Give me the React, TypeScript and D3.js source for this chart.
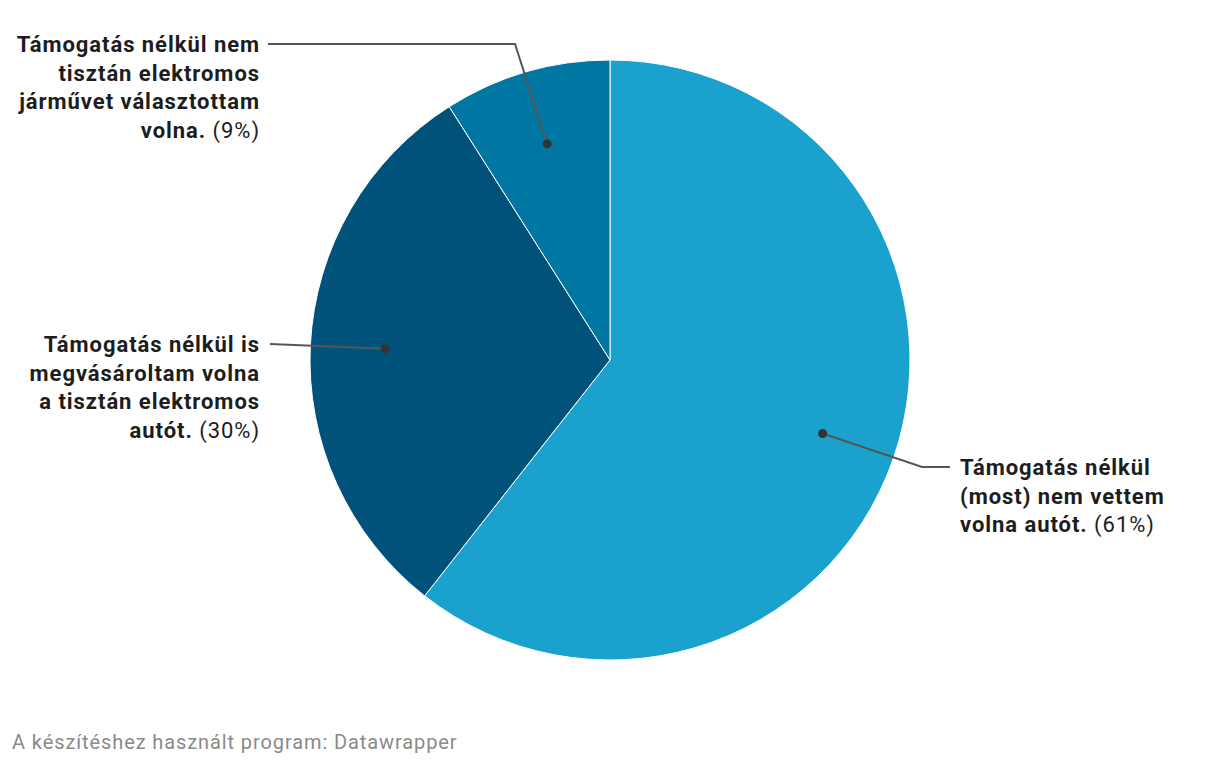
import React from "react";
import * as d3 from "d3";

const categories = [
  "Támogatás nélkül (most) nem vettem volna autót.",
  "Támogatás nélkül is megvásároltam volna a tisztán elektromos autót.",
  "Támogatás nélkül nem tisztán elektromos járművet választottam volna.",
];
const values = [60.6, 30.4, 9.0];
const percentLabels = ["(61%)", "(30%)", "(9%)"];
const colors = ["#1aa1cd", "#00527a", "#0077a3"];
const labelLines = [
  ["Támogatás nélkül", "(most) nem vettem", "volna autót."],
  ["Támogatás nélkül is", "megvásároltam volna", "a tisztán elektromos", "autót."],
  ["Támogatás nélkül nem", "tisztán elektromos", "járművet választottam", "volna."],
];

const W = 1220;
const H = 766;
const cx = 610;
const cy = 360;
const R = 300;

const labelLayout = [
  { x: 960, y: 475, anchor: "start", elbow: [922, 467], end: [950, 467] },
  { x: 260, y: 352, anchor: "end", elbow: null, end: [270, 344] },
  { x: 260, y: 52, anchor: "end", elbow: [515, 44], end: [268, 44] },
];

export default function App() {
  const pie = d3
    .pie<number>()
    .sort(null)
    .value((d) => d)
    .startAngle(0)
    .endAngle(2 * Math.PI);
  const arcs = pie(values);
  const arc = d3.arc<d3.PieArcDatum<number>>().innerRadius(0).outerRadius(R);
  const dotArc = d3
    .arc<d3.PieArcDatum<number>>()
    .innerRadius(R * 0.75)
    .outerRadius(R * 0.75);
  const lineH = 28.5;

  return (
    <svg width={W} height={H} style={{ display: "block", position: "absolute", left: 0, top: 0 }} fontFamily="Roboto, sans-serif">
      <rect width={W} height={H} fill="#ffffff" />
      <g transform={`translate(${cx},${cy})`}>
        {arcs.map((a, i) => (
          <path key={i} d={arc(a) || ""} fill={colors[i]} stroke="#ffffff" strokeWidth={1} />
        ))}
      </g>
      {arcs.map((a, i) => {
        const [dx, dy] = dotArc.centroid(a);
        const px = cx + dx;
        const py = cy + dy;
        const L = labelLayout[i];
        const pts: number[][] = [[px, py]];
        if (L.elbow) pts.push(L.elbow);
        pts.push(L.end);
        const line = d3.line()(pts as [number, number][]) || "";
        const lines = labelLines[i];
        return (
          <g key={i}>
            <path d={line} fill="none" stroke="#555555" strokeWidth={2} />
            <circle cx={px} cy={py} r={4.5} fill="#333333" />
            <text x={L.x} y={L.y} textAnchor={L.anchor as any} fontSize={22} letterSpacing={0.95} fill="#1d1d1d">
              {lines.map((ln, j) => (
                <tspan key={j} x={L.x} y={L.y + j * lineH}>
                  <tspan fontWeight={700}>{ln}</tspan>
                  {j === lines.length - 1 ? (
                    <tspan fontWeight={400}>{" " + percentLabels[i]}</tspan>
                  ) : null}
                </tspan>
              ))}
            </text>
          </g>
        );
      })}
      <text x={12} y={749} fontSize={20} letterSpacing={0.9} fill="#8a8a8a">
        A készítéshez használt program: Datawrapper
      </text>
    </svg>
  );
}
